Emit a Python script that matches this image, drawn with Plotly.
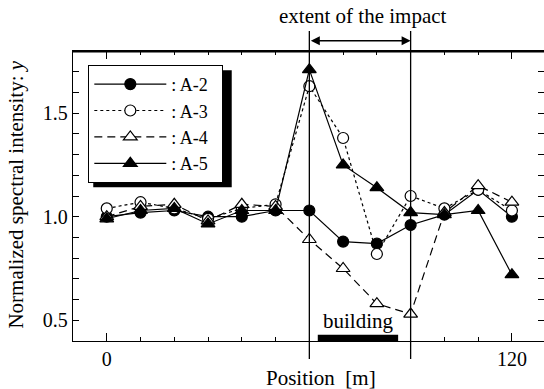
import plotly.graph_objects as go

# ---- data ----
positions = [0, 10, 20, 30, 40, 50, 60, 70, 80, 90, 100, 110, 120]
a2 = [1.00, 1.02, 1.03, 1.00, 1.00, 1.03, 1.03, 0.88, 0.87, 0.96, 1.01, 1.13, 1.00]
a3 = [1.04, 1.07, 1.04, 0.99, 1.04, 1.06, 1.63, 1.38, 0.82, 1.10, 1.04, 1.13, 1.03]
a4 = [1.00, 1.05, 1.06, 0.98, 1.06, 1.05, 0.89, 0.75, 0.58, 0.53, 1.02, 1.15, 1.07]
a5 = [0.99, 1.03, 1.04, 0.965, 1.03, 1.03, 1.71, 1.25, 1.14, 1.02, 1.01, 1.03, 0.72]
series_names = [": A-2\u00a0\u00a0", ": A-3\u00a0\u00a0", ": A-4\u00a0\u00a0", ": A-5\u00a0\u00a0"]
impact_start, impact_end = 60, 90
building_start, building_end = 62.5, 86.3
x_ticks = [0, 120]
y_ticks = [0.5, 1.0, 1.5]

FONT = "Liberation Serif"
BLACK = "black"

fig = go.Figure()
styles = [
    dict(symbol="circle", fill=BLACK, dash="solid", size=11),
    dict(symbol="circle", fill="white", dash="3px,3px", size=11),
    dict(symbol="triangle-up", fill="white", dash="8px,5px", size=12),
    dict(symbol="triangle-up", fill=BLACK, dash="solid", size=12),
]
for name, vals, st in zip(series_names, [a2, a3, a4, a5], styles):
    fig.add_trace(go.Scatter(
        x=positions, y=vals, name=name, mode="lines+markers",
        line=dict(color=BLACK, width=1.2, dash=st["dash"]),
        marker=dict(symbol=st["symbol"], size=st["size"], color=st["fill"],
                    line=dict(color=BLACK, width=1.2)),
    ))

xr = [-10, 129.5]
yr = [0.4, 1.8]
minor_x = dict(dtick=10, tick0=0, ticks="inside", ticklen=4,
               tickcolor=BLACK, tickwidth=1.2)
minor_y = dict(dtick=0.1, tick0=0.4, ticks="inside", ticklen=6,
               tickcolor=BLACK, tickwidth=1.2)
fig.update_layout(
    width=544, height=389,
    margin=dict(l=73, r=0, t=51, b=48),
    paper_bgcolor="white", plot_bgcolor="white",
    font=dict(family=FONT, size=20, color=BLACK),
    showlegend=True,
    legend=dict(x=0.0325, y=0.952, xanchor="left", yanchor="top",
                bgcolor="white", bordercolor=BLACK, borderwidth=1,
                itemwidth=72,
                font=dict(family=FONT, size=18, color=BLACK)),
    xaxis=dict(range=xr, showgrid=False, zeroline=False,
               showline=True, linecolor=BLACK, linewidth=1.3, mirror="ticks",
               tickmode="array", tickvals=x_ticks, ticks="inside", ticklen=8,
               tickcolor=BLACK, tickwidth=1.2, minor=minor_x,
               tickfont=dict(size=20)),
    yaxis=dict(range=yr, showgrid=False, zeroline=False,
               showline=True, linecolor=BLACK, linewidth=1.3, mirror="ticks",
               tickmode="array", tickvals=y_ticks, tickformat=".1f",
               ticks="inside", ticklen=6, tickcolor=BLACK, tickwidth=1.2,
               minor=minor_y, tickfont=dict(size=20)),
)

shapes = []
# legend shadow
shapes.append(dict(type="rect", xref="paper", yref="paper",
                   x0=0.043, x1=0.337, y0=0.53, y1=0.934,
                   fillcolor=BLACK, line=dict(width=0), layer="above"))
for xv in (impact_start, impact_end):
    shapes.append(dict(type="line", xref="x", yref="paper", x0=xv, x1=xv,
                       y0=-0.062, y1=1.069, line=dict(color=BLACK, width=1.3),
                       layer="above"))
shapes.append(dict(type="rect", xref="x", yref="y", x0=building_start,
                   x1=building_end, y0=0.4, y1=0.43, fillcolor=BLACK,
                   line=dict(width=0), layer="above"))
# top edge of the plot frame
shapes.append(dict(type="line", xref="paper", yref="paper", x0=0, x1=1,
                   y0=0.998, y1=0.998, line=dict(color=BLACK, width=2),
                   layer="above"))
fig.update_layout(shapes=shapes)

annotations = [
    dict(text="extent of the impact", xref="x", yref="paper", x=75.9, y=1.073,
         yanchor="bottom", showarrow=False, font=dict(size=21)),
    dict(text="", xref="x", yref="paper", x=impact_end, y=1.0355,
         ax=impact_start, axref="x", ay=0, ayref="pixel",
         showarrow=True, arrowhead=2, arrowside="end+start", arrowsize=1.2,
         arrowwidth=1.5, arrowcolor=BLACK, standoff=0, startstandoff=0),
    dict(text="building", xref="x", yref="y", x=74.6, y=0.42,
         yshift=16, showarrow=False, font=dict(size=21)),
    dict(text="Position  [m]", xref="paper", yref="paper", x=0.527, y=-0.127,
         yanchor="middle", showarrow=False, font=dict(size=21)),
    dict(text="Normalized spectral intensity: <i>y</i>", xref="paper",
         yref="paper", x=-0.121, y=0.505, textangle=-90, showarrow=False,
         xanchor="center", yanchor="middle", font=dict(size=21)),
]
fig.update_layout(annotations=annotations)

fig.write_html("out.html", config={"displayModeBar": False},
               post_script="document.body.style.margin='0px';"
                           "document.body.style.padding='0px';")
